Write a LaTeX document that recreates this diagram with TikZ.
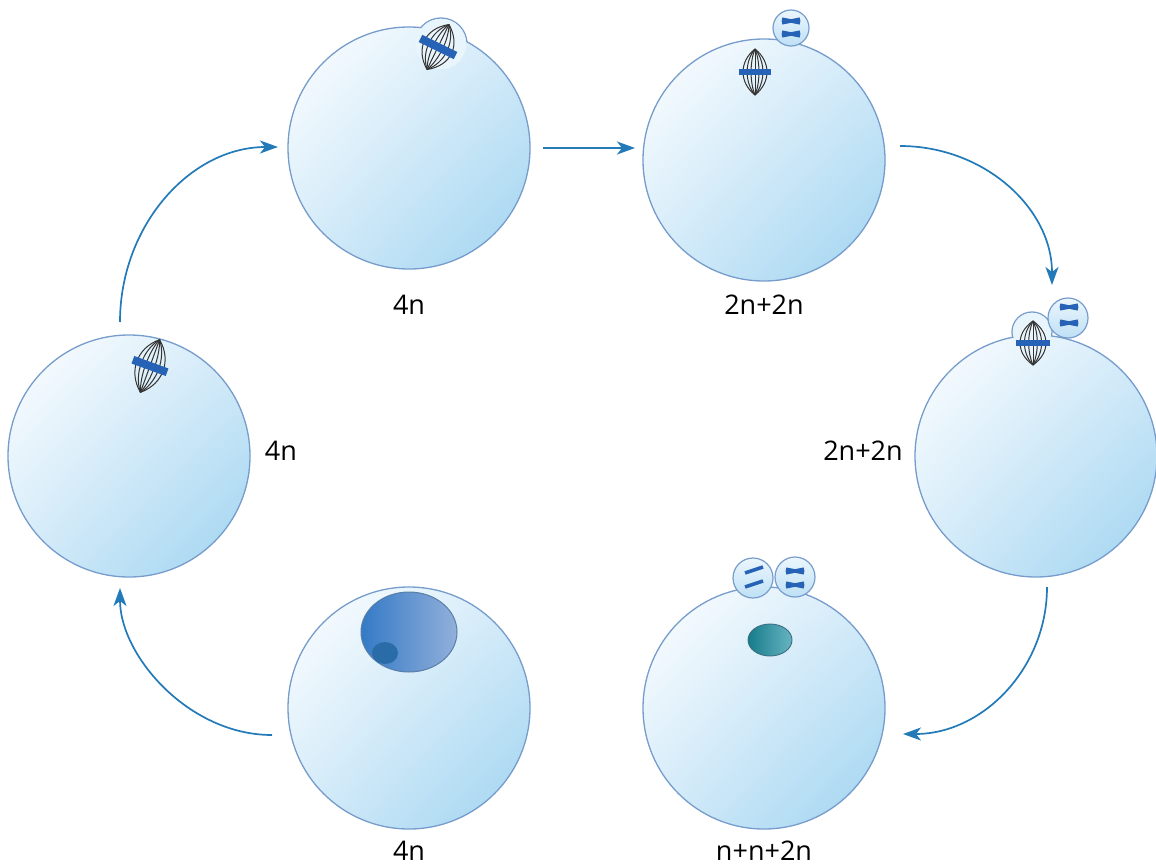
\documentclass[tikz,border=0pt]{standalone}
\usepackage{fontspec}
\setmainfont{Open Sans}
\usetikzlibrary{arrows.meta,shadings}

\definecolor{cellline}{RGB}{118,156,204}
\definecolor{cellblue}{RGB}{158,211,240}
\definecolor{cellmid}{RGB}{212,235,249}
\definecolor{arrowblue}{RGB}{34,122,184}
\definecolor{chromoblue}{RGB}{38,98,182}
\definecolor{bumpfill}{RGB}{233,245,252}
\definecolor{pblight}{RGB}{236,246,253}
\definecolor{pbdark}{RGB}{190,224,245}
\definecolor{nucdark}{RGB}{52,122,198}
\definecolor{nuclight}{RGB}{146,176,218}
\definecolor{nucline}{RGB}{90,126,166}
\definecolor{nucleolus}{RGB}{42,108,168}
\definecolor{tealdark}{RGB}{22,124,138}
\definecolor{teallight}{RGB}{104,180,194}
\definecolor{tealline}{RGB}{60,110,130}

% spindle: x, y, rotation, half width, half length, bar thickness
\newcommand\spindlefig[6]{%
  \begin{scope}[shift={(#1,#2)}, rotate=#3]
    \foreach \k in {-1,-0.66,-0.33,0,0.33,0.66,1}{
      \draw[spindleline] (0,#5) .. controls (\k*#4*1.33,#5*0.45) and (\k*#4*1.33,-#5*0.45) .. (0,-#5);
    }
    \draw[chromobar, line width=#6] (-#4*1.3,0) -- (#4*1.3,0);
  \end{scope}}

% paired chromatids
\newcommand\xchromo[2]{%
  \draw[chromo] (#1-9,#2-1.8) -- (#1+9,#2+1.8);
  \draw[chromo] (#1-9,#2+1.8) -- (#1+9,#2-1.8);}

% single chromatid
\newcommand\schromo[2]{%
  \draw[chromo] (#1-9,#2+3) -- (#1+9,#2-3);}

\begin{document}
\begin{tikzpicture}[x=1pt,y=-1pt,
  cell/.style={circle, minimum size=242pt, inner sep=0pt, draw=cellline, line width=1.3pt,
    upper left=white, upper right=cellmid, lower left=cellmid, lower right=cellblue},
  pbody/.style={circle, minimum size=#1, inner sep=0pt, draw=cellline, line width=1.2pt,
    upper left=pblight, upper right=pblight, lower left=pbdark, lower right=pbdark},
  bumpline/.style={draw=cellline, line width=1.3pt},
  spindleline/.style={draw=black!80, line width=1pt},
  chromobar/.style={draw=chromoblue},
  chromo/.style={draw=chromoblue, line width=3.6pt},
  flow/.style={draw=arrowblue, line width=1.7pt, -{Stealth[length=18pt,width=13pt,inset=5pt]}},
  lbl/.style={font=\fontsize{27}{32}\selectfont, anchor=base, inner sep=0pt}]
\useasboundingbox (0,0) rectangle (1156,867);

% ---- left cell (4n), metaphase I spindle
\node[cell] (c6) at (129,456) {};
\spindlefig{150}{366}{-20}{14}{28}{8}
\node[lbl] (l6) at (281,460) {4n};

% ---- top left cell (4n), spindle in a surface bulge
\fill[bumpfill] (441,44) circle (26);
\draw[bumpline] (441,44) circle (26);
\node[cell] (c1) at (409,148) {};
\fill[bumpfill] (441,44) circle (25.2);
\spindlefig{438}{47}{-26}{15}{25}{8}
\node[lbl] (l1) at (409,314) {4n};

% ---- top right cell (2n+2n), first polar body
\node[cell] (c2) at (764,160) {};
\spindlefig{755}{72}{0}{12}{23}{5}
\node[pbody=36pt] (p2) at (791,28) {};
\xchromo{791}{21}
\xchromo{791}{34}
\node[lbl] (l2) at (764,314) {2n+2n};

% ---- right cell (2n+2n), second spindle in a bulge
\fill[bumpfill] (1032,332) circle (20);
\draw[bumpline] (1032,332) circle (20);
\node[cell] (c3) at (1036,456) {};
\fill[bumpfill] (1032,332) circle (19.2);
\spindlefig{1033}{343}{0}{13}{22}{6}
\node[pbody=40pt] (p3) at (1068,318) {};
\xchromo{1069}{307}
\xchromo{1069}{323}
\node[lbl] (l3) at (863,460) {2n+2n};

% ---- bottom right cell (n+n+2n), two polar bodies and pronucleus
\node[cell] (c4) at (764,708) {};
\node[pbody=40pt] (p4a) at (753,578) {};
\node[pbody=40pt] (p4b) at (795,577) {};
\schromo{754}{570}
\schromo{754}{584}
\xchromo{795}{571}
\xchromo{795}{585}
\shade[left color=tealdark, right color=teallight, draw=tealline, line width=0.9pt]
  (770,640) ellipse [x radius=22, y radius=16];
\node[lbl] (l4) at (764,860) {n+n+2n};

% ---- bottom left cell (4n), nucleus with nucleolus
\node[cell] (c5) at (409,708) {};
\shade[left color=nucdark, right color=nuclight, draw=nucline, line width=1pt]
  (409,632) ellipse [x radius=48, y radius=40];
\fill[nucleolus] (385,653) ellipse [x radius=13, y radius=11];
\node[lbl] (l5) at (409,860) {4n};

% ---- cycle arrows
\coordinate (a1s) at (120,322);  \coordinate (a1e) at (278,147);
\coordinate (a2s) at (543,148);  \coordinate (a2e) at (635,148);
\coordinate (a3s) at (900,146);  \coordinate (a3e) at (1052,285);
\coordinate (a4s) at (1047,587); \coordinate (a4e) at (903,734);
\coordinate (a5s) at (272,735);  \coordinate (a5e) at (120,588);

\draw[flow] (a1s) .. controls (120,226) and (190,147) .. (a1e);
\draw[flow] (a2s) -- (a2e);
\draw[flow] (a3s) .. controls (984,146) and (1052,208) .. (a3e);
\draw[flow] (a4s) .. controls (1047,668) and (983,734) .. (a4e);
\draw[flow] (a5s) .. controls (188,735) and (120,655) .. (a5e);
\end{tikzpicture}
\end{document}
